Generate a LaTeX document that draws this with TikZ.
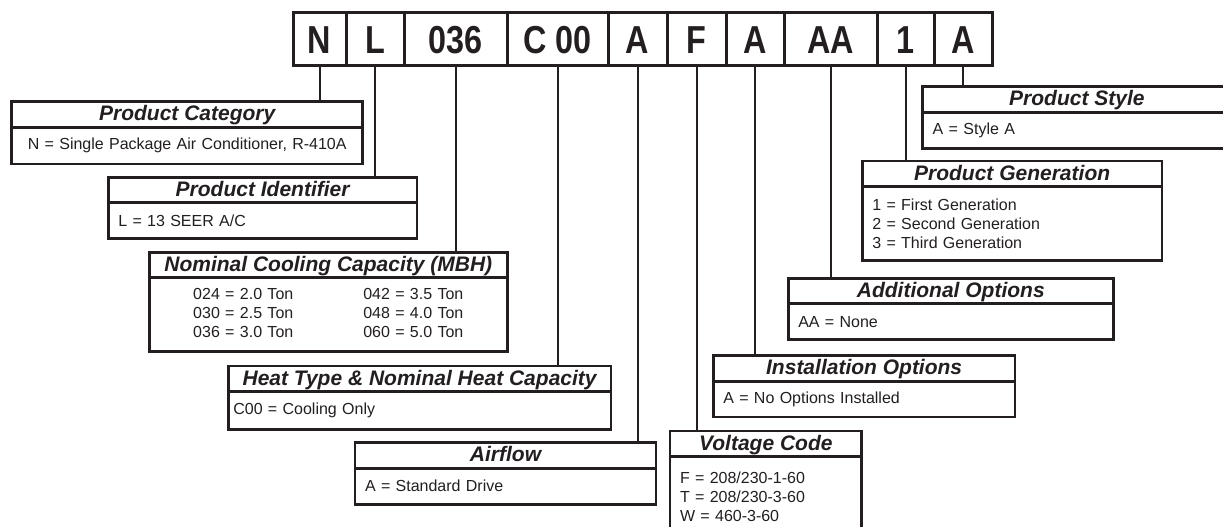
\documentclass[tikz,border=0pt]{standalone}
\usepackage{fontspec}
\setmainfont{Liberation Sans}
\newfontfamily\codefamily[FakeStretch=0.83]{Liberation Sans}
\usepackage{tikz}
\usetikzlibrary{positioning}
\definecolor{ink}{HTML}{231F20}

\begin{document}
\begin{tikzpicture}[
  x=1pt,y=-1pt,node distance=0pt,text=ink,
  code/.style={draw=ink,line width=3pt,minimum height=53.7pt,outer sep=0pt,
    inner sep=0pt,text height=28pt,text depth=0pt,
    font=\codefamily\bfseries\fontsize{39}{40}\selectfont},
  head/.style={draw=ink,fill=white,line width=2.8pt,minimum height=25.5pt,
    outer sep=0pt,inner sep=0pt,anchor=north west,text height=15pt,text depth=2pt,
    font=\bfseries\itshape\fontsize{21}{24}\selectfont},
  body/.style={draw=ink,fill=white,line width=2.8pt,outer sep=0pt,anchor=north,
    inner xsep=10pt,inner ysep=0pt,align=left,
    font=\fontsize{16}{18.8}\selectfont},
  link/.style={draw=ink,line width=2pt}]
\useasboundingbox (0,0) rectangle (1223,527);

% model number
\node[code,minimum width=53pt,anchor=north west] (cN) at (293,12.3) {N};
\node[code,minimum width=58pt,right=of cN] (cL) {L};
\node[code,minimum width=103pt,right=of cL] (cCap) {036};
\node[code,minimum width=101pt,right=of cCap] (cHeat) {C 00};
\node[code,minimum width=59pt,right=of cHeat] (cAir) {A};
\node[code,minimum width=59pt,right=of cAir] (cVolt) {F};
\node[code,minimum width=58pt,right=of cVolt] (cInst) {A};
\node[code,minimum width=93pt,right=of cInst] (cOpt) {AA};
\node[code,minimum width=57pt,right=of cOpt] (cGen) {1};
\node[code,minimum width=58pt,right=of cGen] (cSty) {A};

% left side
\node[head,minimum width=351pt] (catH) at (11.7,101.7) {Product Category};
\node[body,text width=331pt,minimum height=36.7pt,align=center] (catB) at (catH.south)
  {N = Single Package Air Conditioner, R-410A};
\node[head,minimum width=308.7pt] (idH) at (108.3,177.3) {Product Identifier};
\node[body,text width=288.7pt,minimum height=36pt] (idB) at (idH.south) {L = 13 SEER A/C};
\node[head,minimum width=358pt] (capH) at (149.3,252.3) {Nominal Cooling Capacity (MBH)};
\node[body,text width=338pt,minimum height=74pt,align=center] (capB) at (capH.south)
  {\begin{tabular}{@{}l@{\hspace{70pt}}l@{}}
   024 = 2.0 Ton & 042 = 3.5 Ton\\
   030 = 2.5 Ton & 048 = 4.0 Ton\\
   036 = 3.0 Ton & 060 = 5.0 Ton
   \end{tabular}};
\node[head,minimum width=382.7pt] (heatH) at (228.3,366) {Heat Type \& Nominal Heat Capacity};
\node[body,inner xsep=5pt,text width=372.7pt,minimum height=38.3pt] (heatB) at (heatH.south)
  {C00 = Cooling Only};
\node[head,minimum width=301pt] (airH) at (355,442.7) {Airflow};
\node[body,text width=281pt,minimum height=36pt] (airB) at (airH.south) {A = Standard Drive};

% right side
\node[head,minimum width=191.7pt] (voltH) at (670,431) {Voltage Code};
\node[body,text width=171.7pt,minimum height=80pt] (voltB) at (voltH.south)
  {F = 208/230-1-60\\T = 208/230-3-60\\W = 460-3-60};
\node[head,minimum width=301.7pt] (instH) at (713.3,355.7) {Installation Options};
\node[body,text width=281.7pt,minimum height=35.7pt] (instB) at (instH.south)
  {A = No Options Installed};
\node[head,minimum width=325pt] (optH) at (788.3,278.3) {Additional Options};
\node[body,text width=305pt,minimum height=36pt] (optB) at (optH.south) {AA = None};
\node[head,minimum width=299.7pt] (genH) at (862.3,161) {Product Generation};
\node[body,text width=279.7pt,minimum height=74.3pt] (genB) at (genH.south)
  {1 = First Generation\\2 = Second Generation\\3 = Third Generation};
\node[head,minimum width=308.3pt] (styH) at (922.7,86.7) {Product Style};
\node[body,text width=288.3pt,minimum height=36pt] (styB) at (styH.south) {A = Style A};

% leaders
\draw[link] (cN.south) -- (cN.south |- catH.north);
\draw[link] (cL.south) -- (cL.south |- idH.north);
\draw[link] (cCap.south) -- (cCap.south |- capH.north);
\draw[link] (cHeat.south) -- (cHeat.south |- heatH.north);
\draw[link] (cAir.south) -- (cAir.south |- airH.north);
\draw[link] (cVolt.south) -- (cVolt.south |- voltH.north);
\draw[link] (cInst.south) -- (cInst.south |- instH.north);
\draw[link] (cOpt.south) -- (cOpt.south |- optH.north);
\draw[link] (cGen.south) -- (cGen.south |- genH.north);
\draw[link] (cSty.south) -- (cSty.south |- styH.north);
\end{tikzpicture}
\end{document}
